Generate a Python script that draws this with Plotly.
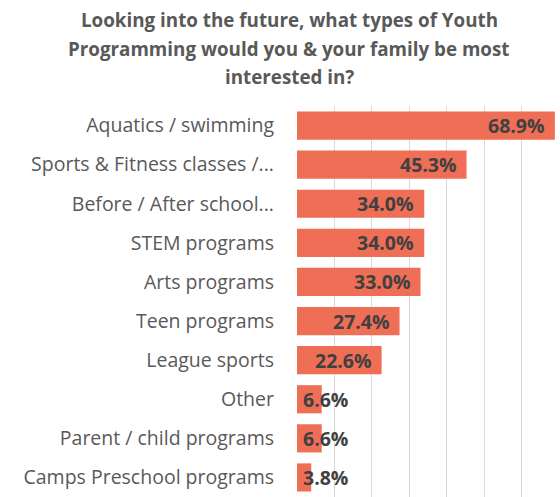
import plotly.graph_objects as go

# Survey results: share of respondents interested in each youth programme type
categories = [
    "Aquatics / swimming",
    "Sports & Fitness classes /...",
    "Before / After school...",
    "STEM programs",
    "Arts programs",
    "Teen programs",
    "League sports",
    "Other",
    "Parent / child programs",
    "Camps Preschool programs",
]
values = [68.9, 45.3, 34.0, 34.0, 33.0, 27.4, 22.6, 6.6, 6.6, 3.8]
x_ticks = [0, 10, 20, 30, 40, 50, 60, 70]

title_lines = [
    "Looking into the future, what types of Youth",
    "Programming would you & your family be most",
    "interested in?",
]

FONT = "Open Sans"
BAR_COLOR = "#EF6E56"
LABEL_COLOR = "#404040"
TEXT_GRAY = "#595959"
PLOT_LEFT = 297
PLOT_TOP = 106
PLOT_WIDTH = 560 - PLOT_LEFT - 1

fig = go.Figure(
    go.Bar(
        x=values,
        y=categories,
        orientation="h",
        marker=dict(color=BAR_COLOR, line=dict(width=0)),
        width=0.72,
        hoverinfo="skip",
    )
)

# Value labels sit at the inner end of each bar; short bars push the label
# past the bar end so the text keeps clear of the axis.
min_label_pos = 16.4
for cat, v in zip(categories, values):
    fig.add_annotation(
        x=max(v, min_label_pos),
        y=cat,
        text=f"<b>{v:.1f}%</b>",
        xanchor="right",
        yanchor="middle",
        xshift=-8,
        showarrow=False,
        font=dict(family=FONT, size=19.5, color=LABEL_COLOR),
    )

# Three-line title, each line placed separately for wider line spacing
title_center_px = 289
line_mid_px = [20, 49, 77]
for line, mid in zip(title_lines, line_mid_px):
    fig.add_annotation(
        xref="paper",
        yref="paper",
        x=(title_center_px - PLOT_LEFT) / PLOT_WIDTH,
        y=1,
        yshift=PLOT_TOP - mid,
        xanchor="center",
        yanchor="middle",
        text=f"<b>{line}</b>",
        showarrow=False,
        font=dict(family=FONT, size=18.8, color=TEXT_GRAY),
    )

fig.update_layout(
    width=560,
    height=497,
    margin=dict(l=PLOT_LEFT, r=1, t=PLOT_TOP, b=0),
    paper_bgcolor="white",
    plot_bgcolor="white",
    showlegend=False,
    bargap=0.28,
    xaxis=dict(
        range=[0, 70],
        tickvals=x_ticks,
        showticklabels=False,
        showgrid=True,
        gridcolor="#D9D9D9",
        gridwidth=1,
        zeroline=False,
        showline=False,
        fixedrange=True,
    ),
    yaxis=dict(
        categoryorder="array",
        categoryarray=categories,
        autorange="reversed",
        showgrid=False,
        showline=False,
        ticks="",
        ticklabelstandoff=22,
        tickfont=dict(family=FONT, size=19.5, color=TEXT_GRAY),
        fixedrange=True,
    ),
)

fig.write_html("out.html")
